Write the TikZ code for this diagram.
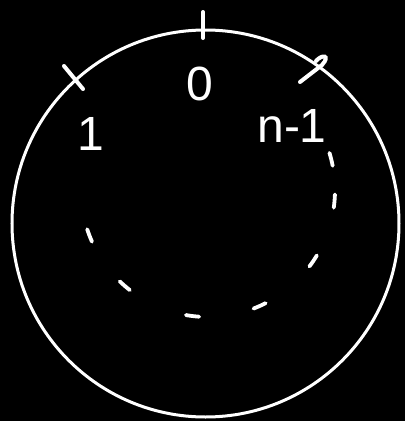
\documentclass[tikz,border=0pt]{standalone}
\usepackage{fontspec}
\setmainfont{Liberation Sans}
\tikzset{
  ring/.style={draw=white, line width=3pt},
  notch/.style={draw=white, line width=4pt, line cap=round},
  slot/.style={draw=white, line width=3.8pt, line cap=round},
  idx/.style={text=white, inner sep=0pt, font=\fontsize{48}{48}\selectfont}
}
\begin{document}
\begin{tikzpicture}[x=1pt, y=-1pt]
  \fill[black] (0,0) rectangle (405,421);
  \useasboundingbox (0,0) rectangle (405,421);
  \coordinate (rim) at (205.5,223.5);
  \coordinate (gap) at (208,190);

  % outer ring
  \draw[ring] (rim) circle (193.5);

  % slot marks on the ring
  \draw[notch] (203,12) -- (203,38);
  \draw[notch] (64,66) -- (83,89);
  \draw[notch] (316,61) .. controls (322,54) and (331,55) .. (322,65) -- (300,82);

  % labels
  \node[idx] (zero) at (200,84) {0};
  \node[idx] (one) at (91,134) {1};
  \node[idx] (last) at (292,126) {n-1};

  % the remaining slots, dashed
  \foreach \a in {159,131,97,66,34,5,-14}
    \draw[slot] (gap) ++(\a-3:127) arc[start angle=\a-3, end angle=\a+3, radius=127];
\end{tikzpicture}
\end{document}
